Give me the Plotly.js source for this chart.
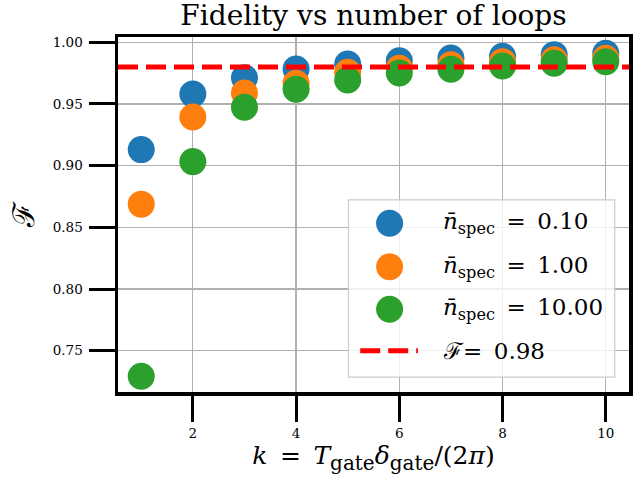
<!DOCTYPE html>
<html>
<head>
<meta charset="utf-8">
<script src="https://cdn.plot.ly/plotly-3.0.1.min.js"></script>
<style>html,body{margin:0;padding:0;background:#fff;}#chart{width:642px;height:489px;}</style>
</head>
<body>
<div id="chart"></div>
<script>
// ---- data ----
const kValues = [1, 2, 3, 4, 5, 6, 7, 8, 9, 10];
const fidelityN010 = [0.913, 0.958, 0.9713, 0.9784, 0.9824, 0.9851, 0.9872, 0.9887, 0.9900, 0.9911];
const fidelityN100 = [0.8688, 0.9395, 0.9589, 0.9668, 0.9757, 0.9789, 0.9818, 0.9843, 0.9859, 0.9870];
const fidelityN1000 = [0.7293, 0.9033, 0.9473, 0.9619, 0.9694, 0.9751, 0.9782, 0.9808, 0.9830, 0.9843];
const seriesLabels = [
  '<i>n̄</i><sub>spec</sub>\u2002=\u20020.10',
  '<i>n̄</i><sub>spec</sub>\u2002=\u20021.00',
  '<i>n̄</i><sub>spec</sub>\u2002=\u200210.00'
];
const thresholdValue = 0.98;
const thresholdLabel = 'ℱ=\u20020.98';
const xTickVals = [2, 4, 6, 8, 10];
const yTickVals = [0.75, 0.80, 0.85, 0.90, 0.95, 1.00];
const seriesColors = ['#1f77b4', '#ff7f0e', '#2ca02c'];

// ---- chart ----
const FONT = 'DejaVu Serif, Liberation Serif, serif';
const series = [fidelityN010, fidelityN100, fidelityN1000];
const traces = series.map((ys, i) => ({
  type: 'scatter', mode: 'markers', x: kValues, y: ys, name: seriesLabels[i],
  marker: {size: 27, color: seriesColors[i], line: {width: 0}},
  showlegend: false, hoverinfo: 'skip'
}));

// custom legend (matplotlib-like, large markers)
const legX0 = 0.451, legX1 = 0.972, legY0 = 0.042, legY1 = 0.541;
const rowY = [0.4752, 0.353, 0.233, 0.1163];
const markerX = 0.5315, textX = 0.633;
const shapes = [
  {type: 'line', xref: 'x domain', x0: 0, x1: 1, yref: 'y', y0: thresholdValue, y1: thresholdValue,
   line: {color: '#ff0000', width: 5, dash: '20px,8px'}, layer: 'above'},
  {type: 'rect', xref: 'paper', yref: 'paper', x0: legX0, x1: legX1, y0: legY0, y1: legY1,
   line: {color: '#cccccc', width: 1.2}, fillcolor: 'rgba(255,255,255,0.8)', layer: 'above'}
];
const annotations = [];
seriesLabels.forEach((lab, i) => {
  shapes.push({type: 'circle', xref: 'paper', yref: 'paper', xsizemode: 'pixel', ysizemode: 'pixel',
    xanchor: markerX, yanchor: rowY[i], x0: -13.5, x1: 13.5, y0: -13.5, y1: 13.5,
    fillcolor: seriesColors[i], line: {width: 0}, layer: 'above'});
  annotations.push({xref: 'paper', yref: 'paper', x: textX, y: rowY[i], xanchor: 'left', yanchor: 'middle',
    text: lab, showarrow: false, font: {family: FONT, size: 23, color: '#000'}});
});
shapes.push({type: 'line', xref: 'paper', yref: 'paper', x0: 0.474, x1: 0.587, y0: rowY[3], y1: rowY[3],
  line: {color: '#ff0000', width: 5, dash: '20px,8px'}, layer: 'above'});
annotations.push({xref: 'paper', yref: 'paper', x: textX, y: rowY[3], xanchor: 'left', yanchor: 'middle',
  text: thresholdLabel, showarrow: false, font: {family: FONT, size: 23, color: '#000'}});

const layout = {
  width: 642, height: 489,
  margin: {l: 118, r: 13, t: 37, b: 97, pad: 0},
  paper_bgcolor: '#fff', plot_bgcolor: '#fff',
  font: {family: FONT, color: '#000'},
  title: {text: 'Fidelity vs number of loops', font: {family: FONT, size: 28, color: '#000'},
          xref: 'paper', x: 0.5, xanchor: 'center', yref: 'paper', y: 1, yanchor: 'bottom', pad: {b: 12}},
  xaxis: {
    range: [0.55, 10.45], tickvals: xTickVals, ticktext: xTickVals.map(String),
    showgrid: true, gridcolor: '#b0b0b0', gridwidth: 1.2, zeroline: false,
    showline: true, linecolor: '#000', linewidth: 3.5, mirror: true,
    ticks: 'outside', ticklen: 26, tickwidth: 3, tickcolor: '#000',
    tickfont: {family: FONT, size: 13.5, color: '#000'},
    title: {text: '<i>k</i>\u2002=\u2002<i>T</i><sub><span style="font-size:20px">gate</span></sub><i>δ</i><sub><span style="font-size:20px">gate</span></sub>/(2<i>π</i>)',
            font: {family: FONT, size: 25, color: '#000'}, standoff: 8}
  },
  yaxis: {
    range: [0.7165, 1.0043], tickvals: yTickVals, ticktext: yTickVals.map(v => v.toFixed(2)),
    showgrid: true, gridcolor: '#b0b0b0', gridwidth: 1.2, zeroline: false,
    showline: true, linecolor: '#000', linewidth: 3.5, mirror: true,
    ticks: 'outside', ticklen: 26, tickwidth: 3, tickcolor: '#000', ticklabelstandoff: 3,
    tickfont: {family: FONT, size: 13.5, color: '#000'},
    title: {text: 'ℱ', font: {family: FONT, size: 30, color: '#000'}, standoff: 10}
  },
  shapes: shapes, annotations: annotations, showlegend: false
};
Plotly.newPlot('chart', traces, layout, {staticPlot: true, displayModeBar: false});
</script>
</body>
</html>
